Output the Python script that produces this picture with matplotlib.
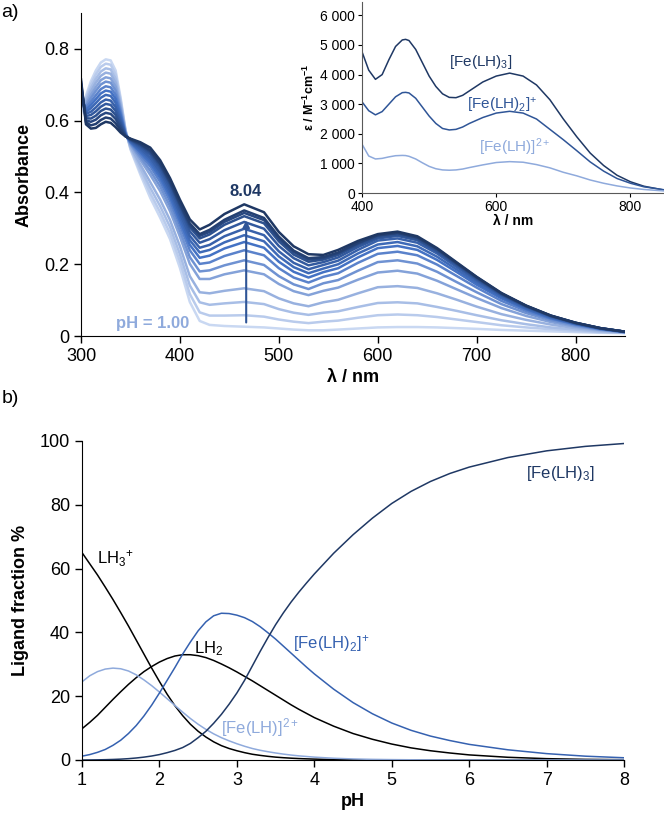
import matplotlib
matplotlib.use("Agg")
import matplotlib.pyplot as plt
from matplotlib.colors import LinearSegmentedColormap

plt.rcParams['font.family'] = ['Liberation Sans', 'DejaVu Sans']
plt.rcParams['mathtext.fontset'] = 'custom'
plt.rcParams['mathtext.rm'] = 'Liberation Sans'
plt.rcParams['mathtext.it'] = 'Liberation Sans'
plt.rcParams['mathtext.bf'] = 'Liberation Sans:bold'

# ---- a) UV-vis titration spectra (pH 1.00 -> 8.04) ----
wavelength = [300, 305, 310, 315, 320, 325, 330, 335, 340, 345, 350, 360, 370, 380, 390,
              400, 410, 420, 430, 445, 465, 485, 500, 515, 530, 545, 560, 580, 600, 620,
              640, 660, 680, 700, 725, 750, 775, 800, 825, 850]

absorbance = [
    [.620, .670, .710, .740, .762, .771, .768, .740, .665, .575, .520, .450, .385, .330, .270, .190, .095, .042, .031, .028, .026, .024, .021, .018, .016, .016, .018, .021, .024, .025, .025, .024, .022, .020, .017, .015, .013, .011, .009, .008],
    [.627, .664, .701, .729, .750, .759, .756, .729, .658, .573, .523, .458, .398, .345, .286, .208, .117, .066, .057, .057, .058, .054, .046, .040, .036, .040, .043, .051, .058, .060, .058, .053, .046, .039, .030, .024, .019, .014, .011, .009],
    [.634, .659, .691, .717, .737, .746, .743, .717, .651, .571, .526, .468, .413, .362, .304, .228, .141, .094, .087, .091, .095, .089, .075, .065, .059, .065, .069, .081, .092, .094, .091, .081, .070, .058, .044, .033, .024, .018, .012, .009],
    [.640, .653, .682, .706, .725, .734, .731, .706, .644, .569, .529, .478, .429, .380, .323, .250, .167, .122, .119, .126, .133, .125, .105, .091, .083, .094, .101, .119, .136, .139, .134, .119, .101, .082, .061, .045, .032, .022, .015, .010],
    [.647, .647, .672, .694, .713, .721, .718, .695, .637, .566, .534, .491, .449, .404, .348, .277, .201, .159, .159, .172, .183, .172, .145, .125, .114, .126, .135, .157, .177, .182, .174, .154, .130, .106, .078, .056, .039, .026, .017, .010],
    [.654, .641, .663, .683, .701, .709, .706, .684, .630, .565, .536, .499, .461, .417, .362, .293, .220, .180, .183, .197, .211, .198, .167, .144, .131, .147, .156, .182, .206, .211, .202, .179, .150, .122, .089, .064, .044, .029, .018, .011],
    [.661, .636, .653, .671, .688, .696, .693, .672, .623, .563, .539, .506, .473, .430, .376, .309, .239, .201, .205, .223, .239, .225, .189, .163, .149, .165, .175, .204, .229, .235, .225, .199, .167, .135, .098, .070, .048, .032, .019, .011],
    [.668, .630, .644, .660, .676, .684, .681, .661, .616, .562, .541, .512, .482, .441, .388, .321, .254, .218, .224, .244, .262, .246, .207, .179, .163, .178, .189, .219, .245, .251, .240, .212, .178, .143, .105, .075, .050, .033, .020, .011],
    [.674, .624, .635, .649, .664, .672, .669, .650, .609, .561, .542, .517, .490, .450, .397, .332, .267, .233, .240, .261, .281, .264, .222, .192, .175, .188, .200, .230, .255, .262, .250, .221, .185, .149, .109, .077, .052, .034, .021, .012],
    [.681, .619, .625, .637, .651, .659, .656, .638, .602, .560, .544, .522, .497, .458, .406, .342, .279, .246, .254, .278, .299, .281, .236, .204, .186, .198, .210, .240, .266, .272, .260, .230, .192, .155, .113, .080, .054, .035, .021, .012],
    [.688, .613, .616, .626, .639, .647, .644, .627, .595, .559, .546, .527, .505, .467, .416, .353, .292, .260, .270, .295, .318, .299, .251, .217, .197, .206, .219, .248, .272, .279, .267, .235, .197, .158, .115, .082, .055, .036, .021, .012],
    [.695, .607, .606, .614, .627, .634, .631, .616, .588, .558, .547, .531, .511, .474, .424, .362, .303, .272, .283, .310, .334, .314, .264, .227, .207, .213, .226, .254, .276, .283, .270, .238, .200, .161, .117, .083, .056, .036, .022, .012],
    [.701, .601, .597, .603, .615, .622, .619, .605, .581, .557, .548, .534, .515, .479, .428, .367, .309, .279, .290, .318, .343, .323, .271, .234, .213, .217, .231, .258, .280, .287, .274, .242, .202, .163, .118, .084, .056, .037, .022, .012],
    [.708, .596, .587, .591, .602, .609, .606, .593, .574, .557, .549, .536, .518, .482, .432, .371, .314, .284, .296, .324, .350, .329, .277, .238, .217, .220, .233, .260, .281, .288, .275, .243, .203, .164, .119, .084, .057, .037, .022, .012],
    [.715, .590, .578, .580, .590, .597, .594, .582, .567, .556, .550, .540, .525, .490, .440, .380, .325, .297, .310, .340, .367, .345, .290, .250, .228, .226, .240, .265, .284, .291, .278, .245, .205, .165, .120, .085, .057, .037, .022, .012],
]

# ---- inset: species spectra ----
eps_wavelength = [400, 410, 420, 430, 440, 450, 460, 465, 470, 480, 490, 500, 510, 520, 530, 540,
                  550, 560, 580, 600, 620, 640, 660, 680, 700, 720, 740, 760, 780, 800, 820, 850]
eps_fe_lh3 = [4770, 4150, 3840, 4000, 4500, 4950, 5170, 5190, 5150, 4850, 4400, 3950, 3600, 3350, 3230, 3220,
              3300, 3450, 3750, 3950, 4050, 3950, 3650, 3150, 2500, 1900, 1350, 930, 600, 380, 230, 100]
eps_fe_lh2 = [3080, 2780, 2640, 2750, 3000, 3250, 3390, 3400, 3380, 3200, 2900, 2600, 2350, 2180, 2130, 2150,
              2230, 2350, 2550, 2700, 2760, 2700, 2500, 2150, 1800, 1430, 1050, 740, 490, 330, 210, 110]
eps_fe_lh = [1650, 1250, 1150, 1170, 1220, 1260, 1270, 1265, 1240, 1150, 1020, 900, 820, 780, 770, 780,
             810, 860, 950, 1030, 1060, 1040, 960, 850, 700, 580, 440, 330, 240, 170, 120, 70]

# ---- b) speciation ----
ph = [1.0, 1.1, 1.2, 1.3, 1.4, 1.5, 1.6, 1.7, 1.8, 1.9, 2.0, 2.1, 2.2, 2.3, 2.4, 2.5,
      2.6, 2.7, 2.8, 2.9, 3.0, 3.1, 3.2, 3.3, 3.4, 3.5, 3.6, 3.7, 3.8, 3.9, 4.0,
      4.25, 4.5, 4.75, 5.0, 5.25, 5.5, 5.75, 6.0, 6.5, 7.0, 7.5, 8.0]
frac_lh3 = [65, 61.5, 58, 54.2, 50.3, 46.2, 42, 37.6, 33.2, 28.8, 24.6, 20.6, 17, 13.9, 11.2, 9,
            7.2, 5.7, 4.5, 3.6, 2.9, 2.3, 1.8, 1.45, 1.15, 0.9, 0.72, 0.57, 0.45, 0.36, 0.28,
            0.15, 0.08, 0.04, 0.02, 0.01, 0, 0, 0, 0, 0, 0, 0]
frac_lh2 = [9.8, 11.8, 14, 16.5, 19, 21.4, 23.7, 25.8, 27.7, 29.3, 30.7, 31.8, 32.6, 33, 33, 32.7,
            32.1, 31.2, 30.1, 28.9, 27.6, 26.2, 24.8, 23.3, 21.8, 20.3, 18.8, 17.3, 15.9, 14.6, 13.3,
            10.6, 8.3, 6.5, 5.0, 3.8, 2.9, 2.2, 1.6, 0.85, 0.42, 0.2, 0.1]
frac_fe_lh = [24.5, 26.4, 27.7, 28.5, 28.8, 28.6, 27.9, 26.7, 25.1, 23.3, 21.3, 19.2, 17.1, 15, 13, 11.2,
              9.6, 8.2, 7.0, 6.0, 5.1, 4.3, 3.6, 3.05, 2.6, 2.2, 1.85, 1.55, 1.3, 1.1, 0.9,
              0.55, 0.33, 0.2, 0.12, 0.07, 0.04, 0.02, 0.01, 0, 0, 0, 0]
frac_fe_lh2 = [1.2, 1.7, 2.4, 3.3, 4.6, 6.2, 8.3, 10.8, 13.8, 17.2, 21, 25, 29, 33.2, 37, 40.5,
               43.3, 45.2, 46, 45.9, 45.4, 44.6, 43.4, 41.8, 39.9, 37.9, 35.7, 33.5, 31.3, 29.1, 27,
               22.2, 18, 14.5, 11.6, 9.3, 7.5, 6.1, 4.9, 3.2, 2, 1.2, 0.7]
frac_fe_lh3 = [0, 0.02, 0.05, 0.1, 0.17, 0.27, 0.42, 0.63, 0.9, 1.25, 1.7, 2.3, 3.0, 3.9, 5.2, 7,
               9, 11.5, 14.3, 17.5, 21, 25, 29.5, 34, 38.3, 42.4, 46.1, 49.5, 52.6, 55.5, 58.3,
               64.8, 70.6, 75.8, 80.4, 84.2, 87.3, 89.8, 91.8, 94.8, 96.9, 98.3, 99.2]

DARK = '#1f3864'
MID = '#2f5597'
LIGHT = '#8faadc'

fig = plt.figure(figsize=(6.64, 8.21), dpi=100)

# ---------------- panel a ----------------
ax = fig.add_axes([0.122, 0.5907, 0.8193, 0.3934])
cmap = LinearSegmentedColormap.from_list('ph', ['#c9d8f2', '#8faadc', '#4472c4', '#2f5597', '#1f3864'])
n = len(absorbance)
for i, row in enumerate(absorbance):
    ax.plot(wavelength, row, color=cmap(i / (n - 1)), lw=1.8, solid_joinstyle='round')

ax.annotate('', xy=(467, 0.33), xytext=(467, 0.03),
            arrowprops=dict(arrowstyle='-|>', color=MID, lw=1.5, mutation_scale=10))
ax.text(466, 0.382, '8.04', color=DARK, fontsize=12, fontweight='bold', ha='center', va='bottom')
ax.text(372, 0.035, 'pH = 1.00', color=LIGHT, fontsize=12, fontweight='bold', ha='center', va='center')

ax.set_xlim(300, 850)
ax.set_ylim(0, 0.9)
ax.set_xticks([300, 400, 500, 600, 700, 800])
ax.set_yticks([0, 0.2, 0.4, 0.6, 0.8])
ax.set_yticklabels(['0', '0.2', '0.4', '0.6', '0.8'])
ax.set_xlabel('λ / nm', fontsize=13, fontweight='bold', labelpad=3)
ax.set_ylabel('Absorbance', fontsize=13, fontweight='bold', labelpad=8)
ax.tick_params(labelsize=13, direction='out', length=5, width=1)
for s in ['top', 'right']:
    ax.spines[s].set_visible(False)

# ---------------- inset ----------------
ins = fig.add_axes([0.5452, 0.7649, 0.4548, 0.2326])
ins.patch.set_alpha(0)
ins.plot(eps_wavelength, eps_fe_lh3, color=DARK, lw=1.1)
ins.plot(eps_wavelength, eps_fe_lh2, color=MID, lw=1.1)
ins.plot(eps_wavelength, eps_fe_lh, color=LIGHT, lw=1.1)
ins.text(577, 4425, '[Fe(LH)$_3$]', color=DARK, fontsize=11, ha='center', va='center')
ins.text(609, 2970, '[Fe(LH)$_2$]$^{+}$', color=MID, fontsize=11, ha='center', va='center')
ins.text(628, 1555, '[Fe(LH)]$^{2+}$', color=LIGHT, fontsize=11, ha='center', va='center')
ins.set_xlim(400, 850)
ins.set_ylim(0, 6450)
ins.set_xticks([400, 600, 800])
ins.set_yticks([0, 1000, 2000, 3000, 4000, 5000, 6000])
ins.set_yticklabels(['0', '1 000', '2 000', '3 000', '4 000', '5 000', '6 000'])
ins.set_xlabel('λ / nm', fontsize=10, fontweight='bold', labelpad=0)
ins.set_ylabel('ε / M$^{\\mathbf{-1}}$cm$^{\\mathbf{-1}}$', fontsize=9, fontweight='bold', labelpad=2)
ins.tick_params(labelsize=10, direction='out', length=3, width=0.8, pad=2)
for s in ['top', 'right']:
    ins.spines[s].set_visible(False)
for s in ['left', 'bottom']:
    ins.spines[s].set_color('#595959')

# ---------------- panel b ----------------
bx = fig.add_axes([0.1235, 0.0743, 0.8163, 0.3886])
bx.plot(ph, frac_lh3, color='black', lw=1.1)
bx.plot(ph, frac_lh2, color='black', lw=1.1)
bx.plot(ph, frac_fe_lh, color=LIGHT, lw=1.1)
bx.plot(ph, frac_fe_lh2, color='#3561b0', lw=1.1)
bx.plot(ph, frac_fe_lh3, color=DARK, lw=1.1)

bx.text(1.19, 63, 'LH$_3$$^{+}$', fontsize=12, color='black', ha='left', va='center')
bx.text(2.44, 35, 'LH$_2$', fontsize=12, color='black', ha='left', va='center')
bx.text(3.72, 36.4, '[Fe(LH)$_2$]$^{+}$', fontsize=12, color='#3561b0', ha='left', va='center')
bx.text(2.79, 10.3, '[Fe(LH)]$^{2+}$', fontsize=12, color=LIGHT, ha='left', va='center')
bx.text(6.73, 89.8, '[Fe(LH)$_3$]', fontsize=12, color=DARK, ha='left', va='center')

bx.set_xlim(1, 8)
bx.set_ylim(0, 100)
bx.set_xticks(range(1, 9))
bx.set_yticks([0, 20, 40, 60, 80, 100])
bx.set_xlabel('pH', fontsize=13, fontweight='bold', labelpad=3)
bx.set_ylabel('Ligand fraction %', fontsize=13, fontweight='bold', labelpad=8)
bx.tick_params(labelsize=13, direction='out', length=5, width=1)
for s in ['top', 'right']:
    bx.spines[s].set_visible(False)

fig.text(0.002, 0.985, 'a)', fontsize=14, ha='left', va='center')
fig.text(0.002, 0.515, 'b)', fontsize=14, ha='left', va='center')

fig.savefig('out.png', dpi=100)
